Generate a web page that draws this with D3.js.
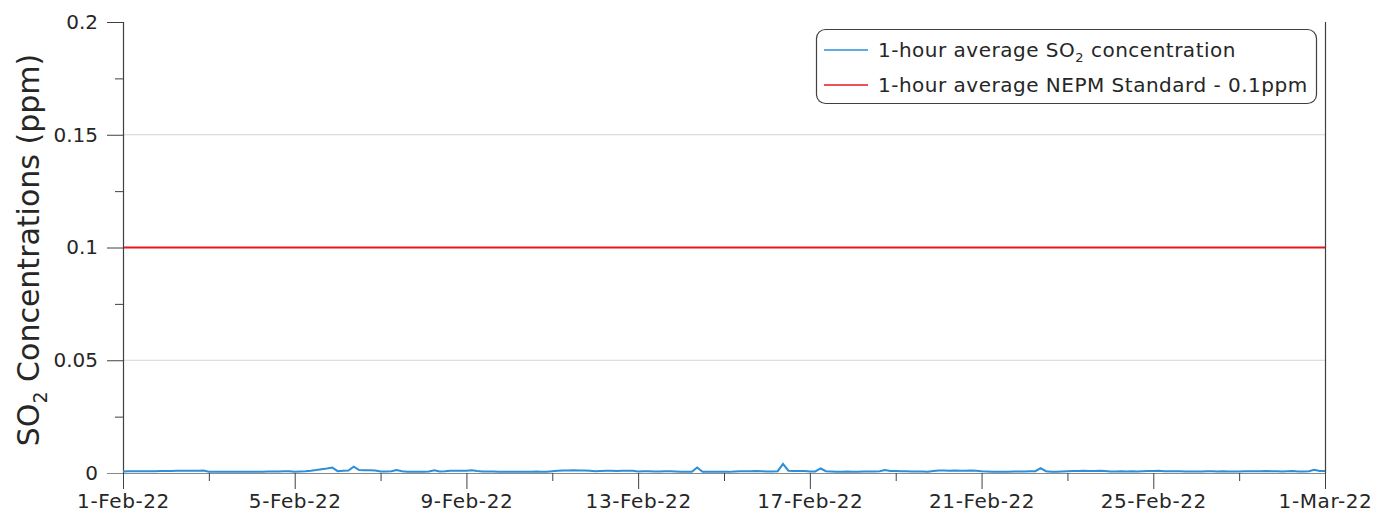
<!DOCTYPE html>
<html><head><meta charset="utf-8">
<script src="https://cdn.jsdelivr.net/npm/d3@7"></script>
<style>
html,body{margin:0;padding:0;background:#fff;}
text{font-family:"DejaVu Sans",sans-serif;fill:#262626;}
</style></head>
<body><svg id="c" width="1376" height="521"></svg>
<script>
// 3-hourly SO2 readings (ppm), 8 per day: 00,03,06,09,12,15,18,21 h
const week1 = [
  0.0007,0.0008,0.0008,0.0008,0.0008,0.0008,0.0008,0.0009,
  0.0009,0.0009,0.0010,0.0010,0.0010,0.0010,0.0010,0.0011,
  0.0006,0.0006,0.0006,0.0005,0.0006,0.0006,0.0006,0.0006,
  0.0005,0.0006,0.0006,0.0007,0.0007,0.0007,0.0008,0.0008,
  0.0006,0.0007,0.0008,0.0010,0.0013,0.0017,0.0020,0.0024,
  0.0008,0.0010,0.0011,0.0028,0.0013,0.0012,0.0012,0.0011,
  0.0007,0.0007,0.0008,0.0013,0.0008,0.0006,0.0006,0.0006
];
const week2 = [
  0.0006,0.0007,0.0012,0.0007,0.0008,0.0010,0.0010,0.0010,
  0.0010,0.0012,0.0009,0.0007,0.0007,0.0007,0.0006,0.0006,
  0.0006,0.0006,0.0006,0.0006,0.0006,0.0007,0.0006,0.0006,
  0.0008,0.0010,0.0011,0.0011,0.0012,0.0011,0.0011,0.0010,
  0.0008,0.0009,0.0010,0.0010,0.0009,0.0010,0.0010,0.0010,
  0.0007,0.0008,0.0008,0.0007,0.0007,0.0008,0.0008,0.0007,
  0.0006,0.0005,0.0005,0.0024,0.0005,0.0005,0.0006,0.0006
];
const week3 = [
  0.0005,0.0005,0.0007,0.0008,0.0008,0.0008,0.0009,0.0008,
  0.0007,0.0007,0.0008,0.0040,0.0010,0.0009,0.0009,0.0009,
  0.0007,0.0007,0.0020,0.0008,0.0007,0.0006,0.0006,0.0007,
  0.0006,0.0006,0.0007,0.0007,0.0007,0.0008,0.0013,0.0009,
  0.0009,0.0008,0.0008,0.0007,0.0007,0.0007,0.0006,0.0009,
  0.0011,0.0011,0.0010,0.0011,0.0010,0.0010,0.0011,0.0010,
  0.0008,0.0007,0.0006,0.0006,0.0006,0.0006,0.0007,0.0007
];
const week4 = [
  0.0007,0.0008,0.0008,0.0022,0.0008,0.0006,0.0006,0.0007,
  0.0008,0.0009,0.0009,0.0010,0.0009,0.0009,0.0010,0.0009,
  0.0007,0.0007,0.0008,0.0007,0.0008,0.0007,0.0008,0.0009,
  0.0009,0.0010,0.0008,0.0008,0.0008,0.0008,0.0007,0.0007,
  0.0007,0.0007,0.0008,0.0008,0.0007,0.0008,0.0007,0.0007,
  0.0007,0.0008,0.0008,0.0008,0.0008,0.0009,0.0008,0.0008,
  0.0007,0.0008,0.0009,0.0007,0.0007,0.0008,0.0014,0.0009,
  0.0009
];
const so2Values = week1.concat(week2, week3, week4);
const standardValue = 0.1;
const startDate = new Date(2022, 1, 1);
const endDate = new Date(2022, 2, 1);
const yTicks = [0, 0.05, 0.1, 0.15, 0.2];
const yTickLabels = ["0", "0.05", "0.1", "0.15", "0.2"];
const yMinorTicks = [0.025, 0.075, 0.125, 0.175];
const xTickDays = [1,5,9,13,17,21,25];
const xTickLabels = ["1-Feb-22","5-Feb-22","9-Feb-22","13-Feb-22","17-Feb-22","21-Feb-22","25-Feb-22","1-Mar-22"];
const xMinorDays = [3,7,11,15,19,23,27];
const legendLabels = ["1-hour average SO\u2082 concentration", "1-hour average NEPM Standard - 0.1ppm"];

const svg = d3.select("#c");
const L = 123, R = 1325, T = 22, B = 473;
const x = d3.scaleTime().domain([startDate, endDate]).range([L, R]);
const y = d3.scaleLinear().domain([0, 0.2]).range([B, T]);

const data = so2Values.map((v, i) => ({t: new Date(2022, 1, 1, i * 3), v}));
const majorDates = xTickDays.map(d => new Date(2022, 1, d)).concat([endDate]);
const minorDates = xMinorDays.map(d => new Date(2022, 1, d));

// gridlines
svg.append("g").selectAll("line").data(yTicks.filter(v => v > 0 && v < 0.2)).join("line")
  .attr("x1", L).attr("x2", R).attr("y1", d => y(d)).attr("y2", d => y(d))
  .attr("stroke", "#d4d4d4").attr("stroke-width", 1);

// y axis major
const yAx = svg.append("g").attr("transform", `translate(${L},0)`)
  .call(d3.axisLeft(y).tickValues(yTicks).tickSize(16).tickPadding(9)
    .tickFormat((d, i) => yTickLabels[i]));
yAx.select(".domain").remove();
yAx.selectAll("line").attr("stroke", "#404040");
yAx.selectAll("text").style("font-size", "20px").style("letter-spacing", "0px")
  .attr("fill", "#262626").attr("font-family", "DejaVu Sans");
const yMin = svg.append("g").attr("transform", `translate(${L},0)`)
  .call(d3.axisLeft(y).tickValues(yMinorTicks).tickSize(8).tickFormat(""));
yMin.select(".domain").remove();
yMin.selectAll("line").attr("stroke", "#404040");

// baseline
svg.append("line").attr("x1", 107).attr("x2", R).attr("y1", y(0) + 0.5).attr("y2", y(0) + 0.5)
  .attr("stroke", "#8a8a8a").attr("stroke-width", 1.2);

// x axis
const xAx = svg.append("g").attr("transform", `translate(0,${B})`)
  .call(d3.axisBottom(x).tickValues(majorDates).tickSize(16).tickPadding(5)
    .tickFormat((d, i) => xTickLabels[i]));
xAx.select(".domain").remove();
xAx.selectAll("line").attr("stroke", "#404040");
xAx.selectAll("text").style("font-size", "20px").style("letter-spacing", "0.6px")
  .attr("fill", "#262626").attr("font-family", "DejaVu Sans");
const xMin = svg.append("g").attr("transform", `translate(0,${B})`)
  .call(d3.axisBottom(x).tickValues(minorDates).tickSize(8).tickFormat(""));
xMin.select(".domain").remove();
xMin.selectAll("line").attr("stroke", "#404040");

// left and right frame lines
svg.append("line").attr("x1", L + 0.5).attr("x2", L + 0.5).attr("y1", T).attr("y2", B)
  .attr("stroke", "#404040").attr("stroke-width", 1.2);
svg.append("line").attr("x1", R + 0.5).attr("x2", R + 0.5).attr("y1", T).attr("y2", B)
  .attr("stroke", "#404040").attr("stroke-width", 1.2);

// standard line
svg.append("line").attr("x1", L + 1).attr("x2", R).attr("y1", y(standardValue)).attr("y2", y(standardValue))
  .attr("stroke", "#e8161c").attr("stroke-width", 2);

// SO2 series
const line = d3.line().defined(d => d.v !== null).x(d => x(d.t)).y(d => y(d.v));
svg.append("path").datum(data).attr("d", line).attr("fill", "none")
  .attr("stroke", "#2b8fd9").attr("stroke-width", 2);

// y label
const yl = svg.append("text").attr("transform", "translate(39,250) rotate(-90)")
  .attr("text-anchor", "middle").style("font-size", "30px");
yl.append("tspan").text("SO");
yl.append("tspan").text("2").style("font-size", "19px").attr("dy", 8);
yl.append("tspan").text(" Concentrations (ppm)").attr("dy", -8);

// legend
const lg = svg.append("g");
lg.append("rect").attr("x", 816.5).attr("y", 29.5).attr("width", 500).attr("height", 74)
  .attr("rx", 9).attr("fill", "#fff").attr("stroke", "#404040").attr("stroke-width", 1.2);
const colors = ["#2b8fd9", "#e8161c"];
legendLabels.forEach((lab, i) => {
  const yy = 50 + i * 35;
  lg.append("line").attr("x1", 824).attr("x2", 868).attr("y1", yy).attr("y2", yy)
    .attr("stroke", colors[i]).attr("stroke-width", 1.6);
  const t = lg.append("text").attr("x", 878).attr("y", yy + 7).style("font-size", "20px").style("letter-spacing", "0.5px");
  if (i === 0) {
    t.append("tspan").text("1-hour average SO");
    t.append("tspan").text("2").style("font-size", "13px").attr("dy", 5);
    t.append("tspan").text(" concentration").attr("dy", -5);
  } else {
    t.text(lab);
  }
});
</script></body></html>
